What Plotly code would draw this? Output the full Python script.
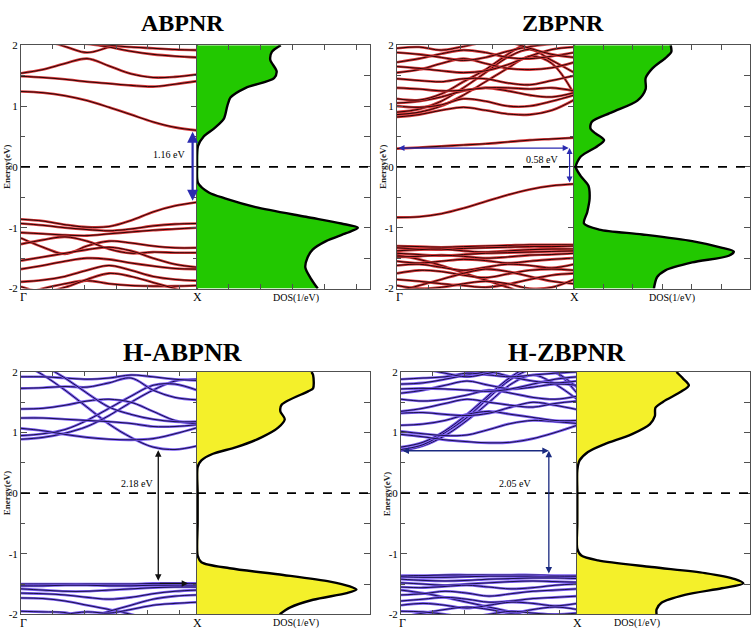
import plotly.graph_objects as go

W, H = 756, 637
K = [0, 0.125, 0.25, 0.375, 0.5, 0.625, 0.75, 0.875, 1.0]

# ---------------- ABPNR ----------------
ABPNR_BANDS = [
    [1.24, 1.22, 1.17, 1.09, 0.98, 0.86, 0.74, 0.65, 0.60],
    [1.49, 1.47, 1.44, 1.40, 1.37, 1.34, 1.32, 1.36, 1.41],
    [1.54, 1.60, 1.70, 1.78, 1.66, 1.53, 1.47, 1.48, 1.52],
    [2.15, 2.08, 1.98, 1.88, 1.97, 2.08, 2.15, 2.15, 2.15],
    [2.10, 2.08, 2.05, 2.02, 1.97, 1.90, 1.85, 1.82, 1.80],
    [2.05, 2.05, 2.05, 2.03, 2.00, 1.97, 1.95, 1.93, 1.92],
    [-0.86, -0.89, -0.95, -0.99, -0.98, -0.88, -0.74, -0.64, -0.58],
    [-0.93, -0.96, -1.00, -1.03, -1.05, -1.02, -0.97, -0.94, -0.93],
    [-1.08, -1.10, -1.12, -1.13, -1.10, -1.07, -1.04, -1.02, -1.00],
    [-1.17, -1.32, -1.43, -1.30, -1.22, -1.25, -1.30, -1.33, -1.33],
    [-1.27, -1.20, -1.15, -1.22, -1.35, -1.42, -1.40, -1.41, -1.41],
    [-1.54, -1.48, -1.42, -1.36, -1.32, -1.38, -1.50, -1.60, -1.65],
    [-1.68, -1.62, -1.55, -1.50, -1.52, -1.58, -1.63, -1.67, -1.68],
    [-1.89, -1.86, -1.80, -1.70, -1.62, -1.70, -1.80, -1.85, -1.87],
    [-2.10, -2.00, -1.92, -1.87, -1.92, -1.95, -1.96, -1.96, -1.95],
    [-1.97, -2.05, -1.98, -1.85, -1.75, -1.80, -1.90, -2.00, -2.10],
]
ABPNR_DOS_E = [2.0, 1.89, 1.76, 1.57, 1.46, 1.30, 1.14, 1.0, 0.79, 0.63, 0.5, 0.34, 0.0, -0.26,
               -0.42, -0.52, -0.66, -0.82, -0.93, -1.0, -1.09, -1.22, -1.36, -1.49, -1.65, -1.84, -2.0]
ABPNR_DOS = [2.63, 2.35, 2.3, 2.5, 2.42, 1.53, 1.05, 0.95, 0.84, 0.53, 0.21, 0.03, 0.0, 0.03,
             0.37, 0.9, 1.84, 3.42, 4.53, 5.05, 4.68, 4.05, 3.63, 3.47, 3.4, 3.58, 3.79]

# ---------------- ZBPNR ----------------
ZBPNR_BANDS = [
    [0.30, 0.32, 0.34, 0.36, 0.38, 0.41, 0.44, 0.46, 0.48],
    [0.82, 0.86, 0.93, 0.98, 0.93, 0.87, 0.86, 0.93, 1.10],
    [0.86, 0.90, 1.00, 1.18, 1.40, 1.62, 1.82, 1.70, 1.20],
    [0.90, 0.95, 1.08, 1.30, 1.55, 1.80, 1.93, 1.75, 1.55],
    [1.00, 0.98, 1.02, 1.12, 1.08, 1.00, 1.00, 1.08, 1.18],
    [1.05, 1.08, 1.15, 1.25, 1.30, 1.25, 1.18, 1.15, 1.22],
    [1.12, 1.10, 1.20, 1.40, 1.60, 1.85, 2.05, 2.10, 2.10],
    [1.30, 1.28, 1.25, 1.26, 1.30, 1.30, 1.28, 1.30, 1.25],
    [1.45, 1.42, 1.40, 1.45, 1.45, 1.38, 1.35, 1.42, 1.50],
    [1.55, 1.60, 1.70, 1.78, 1.70, 1.62, 1.60, 1.63, 1.72],
    [1.65, 1.62, 1.58, 1.55, 1.58, 1.68, 1.82, 1.93, 1.97],
    [1.72, 1.78, 1.86, 1.92, 1.88, 1.80, 1.78, 1.82, 1.88],
    [1.88, 1.85, 1.80, 1.75, 1.80, 1.90, 1.98, 2.02, 2.05],
    [1.95, 1.97, 1.92, 1.98, 2.05, 2.05, 1.95, 1.85, 1.80],
    [-0.83, -0.82, -0.77, -0.68, -0.57, -0.46, -0.37, -0.31, -0.28],
    [-1.30, -1.31, -1.32, -1.31, -1.30, -1.29, -1.28, -1.28, -1.28],
    [-1.33, -1.35, -1.36, -1.34, -1.33, -1.32, -1.31, -1.31, -1.30],
    [-1.38, -1.36, -1.35, -1.38, -1.40, -1.38, -1.36, -1.35, -1.35],
    [-1.42, -1.44, -1.46, -1.44, -1.42, -1.41, -1.40, -1.39, -1.38],
    [-1.45, -1.52, -1.62, -1.74, -1.86, -1.98, -2.08, -2.10, -2.10],
    [-1.48, -1.47, -1.45, -1.47, -1.50, -1.48, -1.45, -1.44, -1.42],
    [-1.55, -1.58, -1.55, -1.52, -1.54, -1.58, -1.55, -1.52, -1.50],
    [-1.62, -1.60, -1.65, -1.70, -1.65, -1.60, -1.62, -1.66, -1.60],
    [-1.75, -1.70, -1.72, -1.78, -1.82, -1.76, -1.70, -1.68, -1.70],
    [-2.05, -1.95, -1.85, -1.75, -1.68, -1.72, -1.80, -1.88, -1.92],
    [-1.85, -1.88, -1.92, -1.95, -1.98, -1.93, -1.85, -1.78, -1.75],
    [-1.95, -2.00, -1.98, -1.92, -1.88, -1.92, -2.00, -1.98, -1.85],
]
ZBPNR_DOS_E = [2.0, 1.89, 1.79, 1.62, 1.46, 1.28, 1.09, 0.9, 0.74, 0.63, 0.55, 0.44, 0.34, 0.17, 0.0,
               -0.15, -0.31, -0.52, -0.74, -0.93, -1.03, -1.11, -1.22, -1.33, -1.39, -1.46, -1.57,
               -1.7, -1.81, -2.0]
ZBPNR_DOS = [3.28, 3.3, 3.1, 2.66, 2.43, 2.43, 2.15, 1.3, 0.6, 0.56, 0.73, 1.02, 0.79, 0.23, 0.06,
             0.23, 0.49, 0.53, 0.45, 0.34, 0.85, 2.32, 4.01, 5.03, 5.42, 5.25, 4.01, 3.1, 2.82, 2.71]

# ---------------- H-ABPNR ----------------
HABPNR_BANDS = [
    [2.15, 1.95, 1.70, 1.42, 1.14, 0.92, 0.76, 0.72, 0.78],
    [0.89, 0.92, 0.99, 1.10, 1.28, 1.50, 1.70, 1.85, 1.88],
    [0.95, 0.98, 1.05, 1.20, 1.40, 1.60, 1.78, 1.80, 1.70],
    [1.07, 1.03, 0.97, 0.92, 0.89, 0.88, 0.90, 0.98, 1.08],
    [1.24, 1.24, 1.22, 1.20, 1.18, 1.15, 1.10, 1.10, 1.13],
    [1.39, 1.40, 1.45, 1.52, 1.55, 1.50, 1.35, 1.20, 1.14],
    [1.73, 1.74, 1.76, 1.75, 1.82, 1.90, 1.70, 1.58, 1.54],
    [1.92, 1.92, 1.90, 1.88, 1.90, 1.95, 1.92, 1.88, 1.86],
    [2.20, 2.10, 1.90, 1.65, 1.42, 1.30, 1.22, 1.18, 1.18],
    [-1.50, -1.50, -1.50, -1.50, -1.50, -1.50, -1.49, -1.49, -1.49],
    [-1.53, -1.53, -1.52, -1.52, -1.53, -1.53, -1.52, -1.52, -1.52],
    [-1.58, -1.60, -1.62, -1.62, -1.60, -1.58, -1.56, -1.55, -1.55],
    [-1.65, -1.66, -1.68, -1.72, -1.75, -1.72, -1.66, -1.62, -1.60],
    [-1.73, -1.74, -1.78, -1.85, -1.92, -2.00, -2.10, -2.10, -2.10],
    [-1.95, -1.96, -1.97, -2.05, -1.95, -1.85, -1.75, -1.70, -1.68],
    [-2.10, -2.05, -2.00, -1.96, -1.98, -1.92, -1.85, -1.82, -1.80],
]
HABPNR_DOS_E = [2.0, 1.95, 1.73, 1.68, 1.46, 1.35, 1.22, 1.08, 0.92, 0.76, 0.65, 0.54, 0.43, 0.0,
                -0.5, -1.03, -1.14, -1.24, -1.35, -1.46, -1.54, -1.59, -1.65, -1.76, -1.89, -2.0]
HABPNR_DOS = [3.64, 3.69, 3.69, 3.53, 2.69, 2.65, 2.79, 2.58, 2.05, 1.25, 0.51, 0.14, 0.02, 0.02,
              0.02, 0.02, 0.14, 1.04, 2.74, 4.23, 4.86, 5.07, 4.76, 3.69, 2.95, 2.63]

# ---------------- H-ZBPNR ----------------
HZBPNR_BANDS = [
    [0.70, 0.78, 0.95, 1.20, 1.50, 1.80, 1.95, 1.80, 1.55],
    [0.72, 0.80, 1.00, 1.25, 1.58, 1.88, 2.05, 2.00, 1.65],
    [0.76, 0.84, 1.03, 1.30, 1.62, 1.92, 2.10, 2.00, 1.75],
    [0.97, 0.93, 0.88, 0.85, 0.83, 0.84, 0.90, 1.00, 1.12],
    [1.02, 0.98, 0.95, 0.96, 1.05, 1.15, 1.20, 1.18, 1.15],
    [1.12, 1.14, 1.20, 1.30, 1.35, 1.30, 1.25, 1.20, 1.20],
    [1.32, 1.33, 1.30, 1.28, 1.32, 1.42, 1.50, 1.45, 1.38],
    [1.35, 1.40, 1.48, 1.55, 1.50, 1.45, 1.42, 1.48, 1.52],
    [1.55, 1.52, 1.55, 1.62, 1.70, 1.65, 1.58, 1.55, 1.60],
    [1.65, 1.70, 1.78, 1.85, 1.78, 1.72, 1.75, 1.80, 1.78],
    [1.72, 1.73, 1.72, 1.70, 1.68, 1.72, 1.80, 1.88, 1.92],
    [1.80, 1.82, 1.88, 1.95, 2.00, 1.92, 1.85, 1.82, 1.85],
    [1.88, 1.90, 1.92, 1.98, 1.95, 1.92, 1.95, 1.98, 2.00],
    [2.10, 2.05, 1.98, 1.92, 1.98, 2.05, 2.10, 2.10, 2.10],
    [-1.36, -1.36, -1.35, -1.35, -1.35, -1.35, -1.35, -1.36, -1.36],
    [-1.38, -1.39, -1.39, -1.38, -1.37, -1.37, -1.37, -1.38, -1.38],
    [-1.42, -1.44, -1.45, -1.44, -1.42, -1.41, -1.40, -1.40, -1.41],
    [-1.48, -1.50, -1.52, -1.50, -1.48, -1.46, -1.45, -1.46, -1.47],
    [-1.55, -1.56, -1.54, -1.52, -1.55, -1.58, -1.56, -1.52, -1.50],
    [-1.60, -1.65, -1.72, -1.80, -1.88, -1.96, -2.05, -2.10, -2.10],
    [-1.68, -1.66, -1.62, -1.65, -1.70, -1.66, -1.62, -1.60, -1.58],
    [-1.78, -1.75, -1.72, -1.75, -1.80, -1.78, -1.74, -1.72, -1.70],
    [-1.85, -1.82, -1.85, -1.90, -1.85, -1.80, -1.82, -1.86, -1.82],
    [-2.05, -1.98, -1.92, -1.88, -1.92, -1.98, -1.92, -1.88, -1.92],
    [-1.95, -1.96, -2.00, -2.05, -2.00, -1.95, -1.98, -2.00, -1.98],
]
HZBPNR_DOS_E = [2.0, 1.89, 1.78, 1.68, 1.51, 1.41, 1.27, 1.14, 0.97, 0.81, 0.68, 0.54, 0.38, 0.0,
                -0.5, -0.92, -1.03, -1.11, -1.22, -1.32, -1.42, -1.49, -1.57, -1.68, -1.81, -1.92, -2.0]
HZBPNR_DOS = [3.45, 3.68, 3.88, 3.63, 2.99, 2.72, 2.70, 2.53, 1.89, 0.96, 0.38, 0.09, 0.01, 0.01,
              0.01, 0.01, 0.15, 0.73, 2.58, 4.44, 5.48, 5.77, 5.02, 3.74, 2.93, 2.76, 2.76]

TITLES = ["ABPNR", "ZBPNR", "H-ABPNR", "H-ZBPNR"]
GAP_LABELS = ["1.16 eV", "0.58 eV", "2.18 eV", "2.05 eV"]
Y_TICKS = [-2, -1, 0, 1, 2]

SERIF = "Liberation Serif, Times New Roman, serif"

panels = [
    dict(bands=ABPNR_BANDS, dos_e=ABPNR_DOS_E, dos=ABPNR_DOS,
         bpx=(21, 197), dpx=(197, 370), ypx=(40, 288), drange=[0, 5.43], dticks=True,
         halo="#d8393a", core="#2a0606", fill="#22c800", edge="#1fb800",
         title_c=(182, 17), dos_lab=(296, 298)),
    dict(bands=ZBPNR_BANDS, dos_e=ZBPNR_DOS_E, dos=ZBPNR_DOS,
         bpx=(397, 574), dpx=(574, 750), ypx=(40, 288), drange=[0, 5.97], dticks=True,
         halo="#d8393a", core="#2a0606", fill="#22c800", edge="#1fb800",
         title_c=(563, 17), dos_lab=(672, 298)),
    dict(bands=HABPNR_BANDS, dos_e=HABPNR_DOS_E, dos=HABPNR_DOS,
         bpx=(21, 197), dpx=(197, 370), ypx=(373, 620), drange=[0, 5.5], dticks=False,
         halo="#7a5cf2", core="#1a1248", fill="#f4f02a", edge="#e8e020",
         title_c=(182, 353), dos_lab=(296, 629)),
    dict(bands=HZBPNR_BANDS, dos_e=HZBPNR_DOS_E, dos=HZBPNR_DOS,
         bpx=(401, 577), dpx=(577, 750), ypx=(373, 620), drange=[0, 6.0], dticks=False,
         halo="#7a5cf2", core="#1a1248", fill="#f4f02a", edge="#e8e020",
         title_c=(566, 353), dos_lab=(637, 629)),
]

# gap arrows: (k_start, E_start, k_end, E_end, double, color, width)
ARROWS = [
    [(0.975, -0.58, 0.975, 0.58, True, "#2b2bb0", 2.2)],
    [(0.0, 0.31, 0.97, 0.31, True, "#2b2bb0", 1.2), (0.975, -0.28, 0.975, 0.31, True, "#2b2bb0", 1.2)],
    [(0.78, -1.47, 0.78, 0.71, True, "#111111", 1.3), (0.78, -1.49, 0.95, -1.49, False, "#111111", 1.3)],
    [(0.0, 0.70, 0.84, 0.70, True, "#1a2a80", 1.3), (0.84, -1.35, 0.84, 0.70, True, "#1a2a80", 1.3)],
]
GAP_LABEL_POS = [(0.84, 0.20), (0.82, 0.12), (0.66, 0.16), (0.65, 0.16)]

fig = go.Figure()
annotations = []
shapes = []
layout = {}


def px2x(p):
    return p / W


def px2y(p):
    return 1 - p / H


def aid(letter, n):
    return letter if n == 1 else f"{letter}{n}"


def text_ann(x, y, text, size, xref="paper", yref="paper", color="black", angle=0):
    return dict(x=x, y=y, xref=xref, yref=yref, text=text, showarrow=False,
                xanchor="center", yanchor="middle", textangle=angle,
                font=dict(family=SERIF, size=size, color=color))


axis_line = "#505050"

for i, p in enumerate(panels):
    bi = 2 * i + 1
    di = 2 * i + 2
    bx, by = aid("x", bi), aid("y", bi)
    dx, dy = aid("x", di), aid("y", di)
    ydom = [px2y(p["ypx"][1]), px2y(p["ypx"][0])]

    # band structure
    for band in p["bands"]:
        fig.add_trace(go.Scatter(x=K, y=band, mode="lines", xaxis=bx, yaxis=by,
                                 line=dict(color=p["halo"], width=2.6, shape="spline", smoothing=1.0),
                                 hoverinfo="skip", showlegend=False))
        fig.add_trace(go.Scatter(x=K, y=band, mode="lines", xaxis=bx, yaxis=by,
                                 line=dict(color=p["core"], width=1.0, shape="spline", smoothing=1.0),
                                 hoverinfo="skip", showlegend=False))
    # DOS
    fig.add_trace(go.Scatter(x=p["dos"], y=p["dos_e"], mode="lines", xaxis=dx, yaxis=dy,
                             fill="tozerox", fillcolor=p["fill"],
                             line=dict(color="black", width=2.4, shape="spline", smoothing=0.8),
                             hoverinfo="skip", showlegend=False))

    layout[f"xaxis{bi}"] = dict(domain=[px2x(p["bpx"][0]), px2x(p["bpx"][1])], range=[0, 1],
                                anchor=by, showline=True, linecolor=axis_line, linewidth=1,
                                mirror="ticks", ticks="inside", ticklen=4, tickcolor=axis_line,
                                tick0=0, dtick=0.18, showticklabels=False, showgrid=False,
                                zeroline=False, fixedrange=True)
    layout[f"yaxis{bi}"] = dict(domain=ydom, range=[-2, 2], anchor=bx, showline=True,
                                linecolor=axis_line, linewidth=1, mirror="ticks",
                                ticks="inside", ticklen=6, tickcolor=axis_line,
                                tickvals=Y_TICKS, ticktext=[str(v) for v in Y_TICKS],
                                tickfont=dict(family=SERIF, size=11, color="black"),
                                minor=dict(ticks="inside", dtick=0.5, ticklen=4, tickcolor=axis_line),
                                showgrid=False, zeroline=False, fixedrange=True)
    dx_axis = dict(domain=[px2x(p["dpx"][0]), px2x(p["dpx"][1])], range=p["drange"], anchor=dy,
                   showline=True, linecolor=axis_line, linewidth=1, mirror=True,
                   showticklabels=False, showgrid=False, zeroline=False, fixedrange=True)
    if p["dticks"]:
        dx_axis.update(ticks="inside", ticklen=5, tickcolor=axis_line, tick0=0, dtick=1,
                       mirror="ticks")
    else:
        dx_axis.update(ticks="")
    layout[f"xaxis{di}"] = dx_axis
    layout[f"yaxis{di}"] = dict(domain=ydom, range=[-2, 2], anchor=dx, side="right",
                                showline=True, linecolor=axis_line, linewidth=1, mirror=True,
                                ticks="inside", ticklen=6, tickcolor=axis_line, tick0=0, dtick=0.5,
                                showticklabels=False, showgrid=False, zeroline=False,
                                fixedrange=True)

    # Fermi level dashed lines
    for xa, ya in ((bx, by), (dx, dy)):
        shapes.append(dict(type="line", xref=f"{xa} domain", yref=ya, x0=0, x1=1, y0=0, y1=0,
                           line=dict(color="black", width=1.6, dash="dash"), layer="above"))
    # coloured DOS edge
    shapes.append(dict(type="line", xref=dx, yref=f"{dy} domain", x0=0, x1=0, y0=0, y1=1,
                       line=dict(color=p["edge"], width=2.5), layer="below"))

    # arrows
    for (k0, e0, k1, e1, dbl, col, w) in ARROWS[i]:
        annotations.append(dict(x=k1, y=e1, ax=k0, ay=e0, xref=bx, yref=by, axref=bx, ayref=by,
                                text="", showarrow=True, arrowhead=2, arrowsize=1.0,
                                arrowwidth=w, arrowcolor=col,
                                arrowside="end+start" if dbl else "end"))
    gx, gy = GAP_LABEL_POS[i]
    annotations.append(text_ann(gx, gy, GAP_LABELS[i], 10, xref=bx, yref=by))

    # titles and labels
    annotations.append(text_ann(px2x(p["title_c"][0]), px2y(p["title_c"][1]),
                                f"<b>{TITLES[i]}</b>", 24 if i < 2 else 26))
    lab_y = px2y(p["ypx"][1] + 9)
    annotations.append(text_ann(px2x(p["bpx"][0] + 2), lab_y, "Γ", 12))
    annotations.append(text_ann(px2x(p["bpx"][1]), lab_y, "X", 12))
    annotations.append(text_ann(px2x(p["dos_lab"][0]), px2y(p["dos_lab"][1]), "DOS(1/eV)", 10))
    annotations.append(text_ann(px2x(p["bpx"][0] - 14), (ydom[0] + ydom[1]) / 2,
                                "<b>Energy(eV)</b>", 9, color="#222", angle=-90))

fig.update_layout(**layout)
fig.update_layout(width=W, height=H, margin=dict(l=0, r=0, t=0, b=0),
                  paper_bgcolor="white", plot_bgcolor="white", showlegend=False,
                  hovermode=False, annotations=annotations, shapes=shapes)

fig.write_html("out.html", config={"displayModeBar": False})
